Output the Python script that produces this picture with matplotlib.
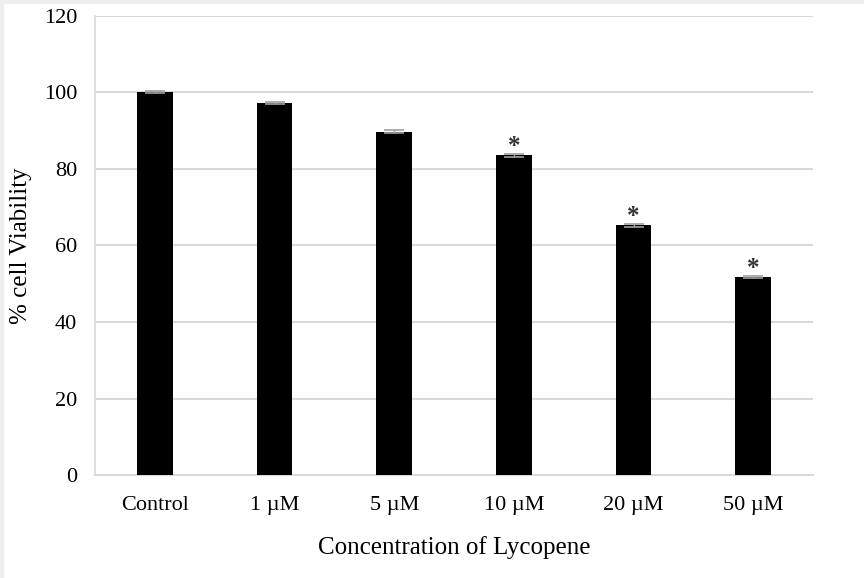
import numpy as np
import matplotlib.pyplot as plt
from matplotlib.patches import Rectangle

# Cell viability vs lycopene concentration
groups = ["Control", "1 \u00b5M", "5 \u00b5M", "10 \u00b5M", "20 \u00b5M", "50 \u00b5M"]
viability = [100.0, 97.2, 89.7, 83.5, 65.2, 51.7]
errors = [0.3, 0.3, 0.3, 0.3, 0.3, 0.3]
significant = [False, False, False, True, True, True]
y_ticks = [0, 20, 40, 60, 80, 100, 120]

plt.rcParams["font.family"] = ["Liberation Serif", "DejaVu Serif"]

fig = plt.figure(figsize=(8.64, 5.78), dpi=100)
ax = fig.add_axes([0.110, 0.178, 0.831, 0.795])

x = np.arange(len(groups))
ax.bar(x, viability, width=0.30, color="black", zorder=3)
ax.errorbar(x, viability, yerr=errors, fmt="none", ecolor="#a0a0a0",
            elinewidth=1, capsize=7, capthick=1.2, zorder=4)

for xi, v, sig in zip(x, viability, significant):
    if sig:
        ax.text(xi, v + 0.6, "*", ha="center", va="baseline", fontsize=18,
                fontweight="bold", color="#333333", zorder=5)

ax.set_xlim(-0.5, len(groups) - 0.5)
ax.set_ylim(0, 120)
ax.set_yticks(y_ticks)
ax.set_xticks(x)
ax.set_xticklabels(groups)
ax.tick_params(axis="both", length=0, labelsize=16)
ax.tick_params(axis="x", pad=15)
ax.tick_params(axis="y", pad=13)

ax.yaxis.grid(True, color="#d9d9d9", linewidth=1.5, zorder=0)
ax.set_axisbelow(True)
for side in ["top", "right"]:
    ax.spines[side].set_visible(False)
ax.spines["left"].set_color("#d9d9d9")
ax.spines["left"].set_linewidth(1.2)
ax.spines["bottom"].set_color("#d9d9d9")
ax.spines["bottom"].set_linewidth(1.5)

ax.set_ylabel("% cell Viability", fontsize=18, labelpad=8)
ax.set_xlabel("Concentration of Lycopene", fontsize=18, labelpad=15)

# thin grey frame strips along the top and left edges
fig.patches.append(Rectangle((0, 0.994), 1, 0.006, transform=fig.transFigure,
                             color="#eeeeee", zorder=0))
fig.patches.append(Rectangle((0, 0), 0.004, 1, transform=fig.transFigure,
                             color="#eeeeee", zorder=0))

fig.savefig("out.png", dpi=100, facecolor="white")
